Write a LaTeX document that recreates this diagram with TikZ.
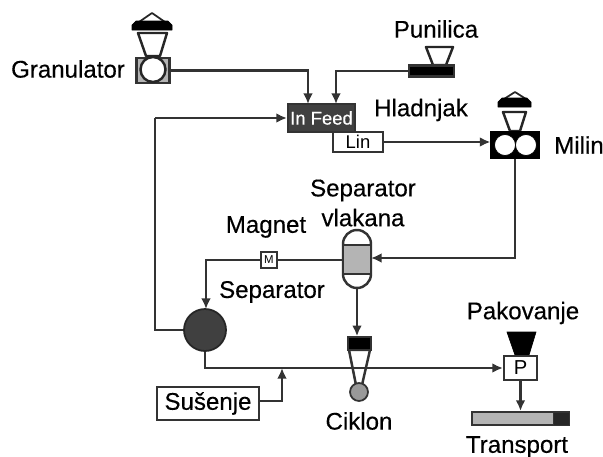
\documentclass[tikz,border=0pt]{standalone}
\usepackage{fontspec}
\setmainfont{Liberation Sans}
\newfontfamily\lblfont[FakeBold=0.35]{Liberation Sans}
\usepackage{xcolor}
\usetikzlibrary{arrows.meta}
\definecolor{linecol}{HTML}{333333}
\definecolor{midgray}{HTML}{B4B4B4}
\definecolor{darkball}{HTML}{404040}
\tikzset{
  lbl/.style={font=\lblfont\fontsize{13.7}{17}\selectfont,text=black,inner sep=0pt,align=center},
  box/.style={draw=linecol,line width=1.2pt,fill=white,inner sep=0pt},
  flow/.style={draw=linecol,line width=1.3pt},
  flowarr/.style={flow,-{Latex[length=6pt,width=5.5pt]}},
  part/.style={draw=black!85,line width=1.4pt,fill=white,line join=round},
}
\begin{document}
\begin{tikzpicture}[x=0.02cm,y=-0.02cm]
    \useasboundingbox (0,0) rectangle (603,457);
    % labels
    \node[lbl] (lgran) at (68,69) {Granulator};
    \node[lbl] (lpun) at (436,29) {Punilica};
    \node[lbl] (lhlad) at (421,110) {Hladnjak};
    \node[lbl] (lmil) at (579,145) {Milin};
    \node[lbl] (lsepv) at (363,203) {Separator\\vlakana};
    \node[lbl] (lmag) at (266,227) {Magnet};
    \node[lbl] (lsep) at (272,292) {Separator};
    \node[lbl] (lpak) at (523,313) {Pakovanje};
    \node[lbl] (lcik) at (359,421) {Ciklon};
    \node[lbl] (ltrans) at (517,447) {Transport};
    % granulator
    \draw[part,line width=1pt] (139,22) -- (152,13) -- (165,22) -- cycle;
    \draw[draw=black,fill=black,line join=round] (132,30) -- (132,25) -- (136,21) -- (168,21) -- (172,25) -- (172,30) -- cycle;
    \draw[part] (138,33) -- (167,33) -- (160,56) -- (146,56) -- cycle;
    \node[box,fill=midgray,minimum width=0.66cm,minimum height=0.5cm] (gran) at (153,70.5) {};
    \draw[part] (153,69.5) circle (12.5);
    % punilica
    \draw[part] (426,47) -- (453,47) -- (446,65) -- (433,65) -- cycle;
    \node[box,fill=black,minimum width=0.9cm,minimum height=0.22cm] (pun) at (431.5,71) {};
    % hladnjak
    \node[box,fill=darkball,text=white,font=\lblfont\fontsize{10.5}{12}\selectfont,minimum width=1.34cm,minimum height=0.56cm] (feed) at (321.5,118) {In Feed};
    \node[box,font=\fontsize{10.5}{12}\selectfont,minimum width=1cm,minimum height=0.4cm] (lin) at (358,142) {Lin};
    \coordinate (feedA) at (308,104);
    \coordinate (feedB) at (336,104);
    % milin
    \draw[part,line width=1pt] (504,99) -- (515,92) -- (526,99) -- cycle;
    \draw[draw=black,fill=black,line join=round] (498,107) -- (498,102) -- (502,98) -- (527,98) -- (531,102) -- (531,107) -- cycle;
    \draw[part] (503,112) -- (526,112) -- (520,131) -- (510,131) -- cycle;
    \node[box,fill=black,draw=black,minimum width=0.94cm,minimum height=0.52cm] (mil) at (515,145) {};
    \draw[draw=black,fill=white] (505,145) circle (10.5);
    \draw[draw=black,fill=white] (526,145) circle (10.5);
    % separator vlakana
    \draw[part,draw=linecol] (343,244) arc (180:360:14) -- (371,274) arc (0:180:14) -- cycle;
    \node[box,fill=midgray,minimum width=0.56cm,minimum height=0.58cm] (sepv) at (357,259.5) {};
    \coordinate (sepvR) at (371,258);
    % magnet
    \node[box,fill=white,font=\fontsize{6.5}{8}\selectfont,minimum width=0.32cm,minimum height=0.32cm] (mag) at (269,260) {M};
    % separator
    \node[circle,draw=black!85,line width=1pt,fill=darkball,minimum size=0.84cm,inner sep=0pt] (sep) at (205,330) {};
    \coordinate (sepIn) at (206,309);
    \coordinate (leftA) at (155,118);
    % ciklon
    \draw[part,draw=linecol] (349,350) -- (370,350) -- (362,385) -- (356,385) -- cycle;
    \node[box,fill=black,minimum width=0.46cm,minimum height=0.25cm] (cikt) at (359.5,343.5) {};
    \node[circle,draw=linecol,line width=1pt,fill=gray!80,minimum size=0.36cm,inner sep=0pt] (cik) at (359,392) {};
    % susenje
    \node[box,lbl,draw=linecol,minimum width=2.04cm,minimum height=0.66cm] (sus) at (208,403.5) {Sušenje};
    \coordinate (susUp) at (282,368);
    % pakovanje
    \draw[draw=black,fill=black] (507,332) -- (536,332) -- (529,355) -- (515,355) -- cycle;
    \node[box,font=\fontsize{11.5}{12}\selectfont,minimum width=0.66cm,minimum height=0.48cm] (pak) at (520.5,368) {P};
    % transport
    \node[box,fill=midgray,minimum width=1.94cm,minimum height=0.26cm] (trans) at (520.5,418.5) {};
    \draw[draw=linecol,fill=black!85] (553,412) rectangle (569,425);
    % flows
    \draw[flowarr] (gran.east) -| (feedA);
    \draw[flowarr] (pun.west) -| (feedB);
    \draw[flowarr] (lin.east) -- (lin.east -| mil.west);
    \draw[flowarr] (mil.south) |- (sepvR);
    \draw[flow] (sepv.west |- mag.east) -- (mag.east);
    \draw[flowarr] (mag.west) -| (sepIn);
    \draw[flow] (sep.west) -| (leftA);
    \draw[flowarr] (leftA) -- (feed.west);
    \draw[flowarr] (sep.south) |- (pak.west);
    \draw[flowarr,line width=1.7pt] (sus.east |- 0,401) -| (susUp);
    \draw[flowarr] (357,288) -- (cikt.north -| 357,0);
    \draw[flowarr] (pak.south) -- (trans.north -| pak.south);
\end{tikzpicture}
\end{document}
